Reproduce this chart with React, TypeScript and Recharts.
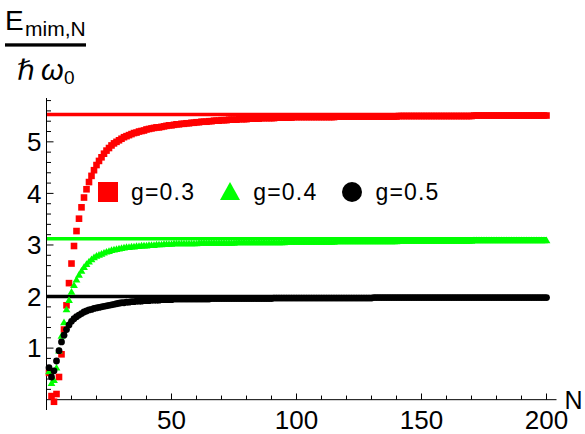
import React from 'react';
import { ScatterChart, Scatter, XAxis, YAxis, ReferenceLine, Legend } from 'recharts';

// E_mim,N / (hbar omega_0) for N = 1..200
const redValues = [
  0.52, 0.07, -0.04, 0.11, 0.44, 0.88, 1.36, 1.83, 2.26, 2.64,
  2.98, 3.27, 3.51, 3.73, 3.92, 4.08, 4.22, 4.34, 4.45, 4.55,
  4.63, 4.7, 4.77, 4.83, 4.88, 4.93, 4.97, 5.0, 5.03, 5.06,
  5.09, 5.11, 5.13, 5.15, 5.17, 5.18, 5.2, 5.21, 5.22, 5.24,
  5.25, 5.26, 5.27, 5.28, 5.28, 5.29, 5.3, 5.31, 5.32, 5.32,
  5.33, 5.34, 5.34, 5.35, 5.35, 5.36, 5.36, 5.37, 5.37, 5.38,
  5.38, 5.39, 5.39, 5.39, 5.4, 5.4, 5.41, 5.41, 5.41, 5.42,
  5.42, 5.42, 5.43, 5.43, 5.43, 5.43, 5.44, 5.44, 5.44, 5.44,
  5.45, 5.45, 5.45, 5.45, 5.45, 5.46, 5.46, 5.46, 5.46, 5.46,
  5.46, 5.47, 5.47, 5.47, 5.47, 5.47, 5.47, 5.47, 5.48, 5.48,
  5.48, 5.48, 5.48, 5.48, 5.48, 5.48, 5.48, 5.48, 5.48, 5.48,
  5.48, 5.48, 5.48, 5.48, 5.48, 5.49, 5.49, 5.49, 5.49, 5.49,
  5.49, 5.49, 5.49, 5.49, 5.49, 5.49, 5.49, 5.49, 5.49, 5.49,
  5.49, 5.49, 5.49, 5.49, 5.49, 5.49, 5.49, 5.49, 5.49, 5.49,
  5.5, 5.5, 5.5, 5.5, 5.5, 5.5, 5.5, 5.5, 5.5, 5.5,
  5.5, 5.5, 5.5, 5.5, 5.5, 5.5, 5.5, 5.5, 5.5, 5.5,
  5.5, 5.5, 5.5, 5.5, 5.5, 5.5, 5.5, 5.5, 5.5, 5.5,
  5.51, 5.51, 5.51, 5.51, 5.51, 5.51, 5.51, 5.51, 5.51, 5.51,
  5.51, 5.51, 5.51, 5.51, 5.51, 5.51, 5.51, 5.51, 5.51, 5.51,
  5.51, 5.51, 5.51, 5.51, 5.51, 5.51, 5.51, 5.51, 5.51, 5.51,
];

const greenValues = [
  0.55, 0.32, 0.38, 0.62, 0.95, 1.24, 1.5, 1.75, 1.93, 2.09,
  2.22, 2.33, 2.42, 2.5, 2.57, 2.63, 2.68, 2.72, 2.76, 2.79,
  2.81, 2.83, 2.85, 2.87, 2.88, 2.9, 2.91, 2.92, 2.93, 2.94,
  2.95, 2.96, 2.96, 2.97, 2.97, 2.98, 2.98, 2.99, 2.99, 2.99,
  3.0, 3.0, 3.0, 3.01, 3.01, 3.01, 3.02, 3.02, 3.02, 3.02,
  3.03, 3.03, 3.03, 3.03, 3.03, 3.03, 3.03, 3.03, 3.03, 3.03,
  3.04, 3.04, 3.04, 3.04, 3.04, 3.04, 3.04, 3.04, 3.04, 3.04,
  3.04, 3.04, 3.04, 3.04, 3.04, 3.05, 3.05, 3.05, 3.05, 3.05,
  3.05, 3.05, 3.05, 3.05, 3.05, 3.05, 3.05, 3.05, 3.05, 3.05,
  3.05, 3.05, 3.05, 3.05, 3.05, 3.06, 3.06, 3.06, 3.06, 3.06,
  3.06, 3.06, 3.06, 3.06, 3.06, 3.06, 3.06, 3.06, 3.06, 3.06,
  3.06, 3.06, 3.06, 3.06, 3.06, 3.07, 3.07, 3.07, 3.07, 3.07,
  3.07, 3.07, 3.07, 3.07, 3.07, 3.07, 3.07, 3.07, 3.07, 3.07,
  3.07, 3.07, 3.07, 3.07, 3.07, 3.07, 3.07, 3.07, 3.07, 3.07,
  3.08, 3.08, 3.08, 3.08, 3.08, 3.08, 3.08, 3.08, 3.08, 3.08,
  3.08, 3.08, 3.08, 3.08, 3.08, 3.08, 3.08, 3.08, 3.08, 3.08,
  3.08, 3.08, 3.08, 3.08, 3.08, 3.08, 3.08, 3.08, 3.08, 3.08,
  3.09, 3.09, 3.09, 3.09, 3.09, 3.09, 3.09, 3.09, 3.09, 3.09,
  3.09, 3.09, 3.09, 3.09, 3.09, 3.09, 3.09, 3.09, 3.09, 3.09,
  3.09, 3.09, 3.09, 3.09, 3.09, 3.09, 3.09, 3.09, 3.09, 3.09,
];

const blackValues = [
  0.62, 0.44, 0.56, 0.75, 0.95, 1.12, 1.25, 1.36, 1.45, 1.52,
  1.57, 1.61, 1.64, 1.67, 1.7, 1.72, 1.74, 1.75, 1.77, 1.78,
  1.79, 1.8, 1.81, 1.82, 1.83, 1.84, 1.85, 1.86, 1.87, 1.88,
  1.88, 1.89, 1.89, 1.9, 1.9, 1.91, 1.91, 1.91, 1.92, 1.92,
  1.92, 1.93, 1.93, 1.93, 1.93, 1.94, 1.94, 1.94, 1.94, 1.94,
  1.95, 1.95, 1.95, 1.95, 1.95, 1.95, 1.95, 1.95, 1.95, 1.95,
  1.95, 1.95, 1.95, 1.95, 1.95, 1.96, 1.96, 1.96, 1.96, 1.96,
  1.96, 1.96, 1.96, 1.96, 1.96, 1.96, 1.96, 1.96, 1.96, 1.96,
  1.96, 1.96, 1.96, 1.96, 1.96, 1.96, 1.96, 1.96, 1.96, 1.96,
  1.97, 1.97, 1.97, 1.97, 1.97, 1.97, 1.97, 1.97, 1.97, 1.97,
  1.97, 1.97, 1.97, 1.97, 1.97, 1.97, 1.97, 1.97, 1.97, 1.97,
  1.97, 1.97, 1.97, 1.97, 1.97, 1.97, 1.97, 1.97, 1.97, 1.97,
  1.97, 1.97, 1.97, 1.97, 1.97, 1.97, 1.97, 1.97, 1.97, 1.97,
  1.98, 1.98, 1.98, 1.98, 1.98, 1.98, 1.98, 1.98, 1.98, 1.98,
  1.98, 1.98, 1.98, 1.98, 1.98, 1.98, 1.98, 1.98, 1.98, 1.98,
  1.98, 1.98, 1.98, 1.98, 1.98, 1.98, 1.98, 1.98, 1.98, 1.98,
  1.98, 1.98, 1.98, 1.98, 1.98, 1.98, 1.98, 1.98, 1.98, 1.98,
  1.98, 1.98, 1.98, 1.98, 1.98, 1.98, 1.98, 1.98, 1.98, 1.98,
  1.98, 1.98, 1.98, 1.98, 1.98, 1.98, 1.98, 1.98, 1.98, 1.98,
  1.98, 1.98, 1.98, 1.98, 1.98, 1.98, 1.98, 1.98, 1.98, 1.98,
];

const nValues = redValues.map((_, i) => i + 1);

// asymptotic values drawn as horizontal lines
const limitValues = [5.53, 3.12, 2.0];
const seriesLabels = ['g=0.3', 'g=0.4', 'g=0.5'];
const seriesColors = ['#ff0000', '#00ff00', '#000000'];

const xMajorTicks = [50, 100, 150, 200];
const xMinorTicks = [10, 20, 30, 40, 60, 70, 80, 90, 110, 120, 130, 140, 160, 170, 180, 190];
const yTicks = [
  0.2, 0.4, 0.6, 0.8, 1, 1.2, 1.4, 1.6, 1.8, 2, 2.2, 2.4, 2.6, 2.8, 3,
  3.2, 3.4, 3.6, 3.8, 4, 4.2, 4.4, 4.6, 4.8, 5, 5.2, 5.4, 5.6, 5.8,
];

const FONT = '"Liberation Sans", Arial, sans-serif';

const toPoints = (vals: number[]) => nValues.map((n, i) => ({ n, e: vals[i] }));

const RedSquare = (p: any) => (
  <rect x={p.cx - 3.3} y={p.cy - 3.3} width={6.6} height={6.6} fill={seriesColors[0]} />
);
const GreenTriangle = (p: any) => (
  <polygon
    points={`${p.cx},${p.cy - 3.8} ${p.cx - 3.9},${p.cy + 2.9} ${p.cx + 3.9},${p.cy + 2.9}`}
    fill={seriesColors[1]}
  />
);
const BlackDot = (p: any) => <circle cx={p.cx} cy={p.cy} r={3.4} fill={seriesColors[2]} />;

function YTick(props: any) {
  const { x, y, payload } = props;
  const v = payload.value;
  const major = Math.abs(v - Math.round(v)) < 1e-6;
  return (
    <g>
      <line x1={x} x2={x + (major ? 7 : 4.5)} y1={y} y2={y} stroke="#000" strokeWidth={1} />
      {major && (
        <text x={x - 5} y={y} dy="0.36em" textAnchor="end" fontSize={26} fill="#000">
          {v}
        </text>
      )}
    </g>
  );
}

const legendIcons = [
  <rect key="s" x={0} y={0} width={20} height={20} fill={seriesColors[0]} />,
  <polygon key="t" points="10,0 0,18 20,18" fill={seriesColors[1]} />,
  <circle key="c" cx={10} cy={10} r={10} fill={seriesColors[2]} />,
];

function LegendRow() {
  return (
    <div style={{ display: 'flex', alignItems: 'center', fontFamily: FONT, fontSize: 23, color: '#000' }}>
      {seriesLabels.map((label, i) => (
        <div key={label} style={{ display: 'flex', alignItems: 'center', marginRight: 25 }}>
          <svg width={20} height={20} style={{ display: 'block' }}>
            {legendIcons[i]}
          </svg>
          <span style={{ marginLeft: 13, letterSpacing: 1.2, lineHeight: '20px' }}>{label}</span>
        </div>
      ))}
    </div>
  );
}

export default function App() {
  const series = [redValues, greenValues, blackValues].map(toPoints);
  const shapes = [RedSquare, GreenTriangle, BlackDot];

  return (
    <div style={{ position: 'absolute', left: 0, top: 0, width: 585, height: 434, background: '#fff', fontFamily: FONT }}>
      <svg width={100} height={95} style={{ position: 'absolute', left: 0, top: 0 }}>
        <text x={5} y={30} fontSize={28} fill="#000" fontFamily={FONT}>
          E
        </text>
        <text x={25} y={35.5} fontSize={21} fill="#000" fontFamily={FONT}>
          mim,N
        </text>
        <rect x={5} y={43.3} width={81} height={3.3} fill="#000" />
        <text x={17} y={80} fontSize={28} fontStyle="italic" fill="#000" fontFamily='"DejaVu Sans", sans-serif'>
          ℏ
        </text>
        <text x={41} y={80} fontSize={29} fontStyle="italic" fill="#000" fontFamily={FONT}>
          ω
        </text>
        <text x={64} y={83.5} fontSize={19} fill="#000" fontFamily={FONT}>
          0
        </text>
      </svg>

      <ScatterChart width={585} height={434} margin={{ top: 98, right: 28.5, bottom: 0, left: 0 }}>
        <XAxis
          type="number"
          dataKey="n"
          domain={[0, 204]}
          ticks={xMajorTicks}
          axisLine={false}
          tickLine={false}
          tickSize={0}
          tickMargin={1}
          height={24}
          tick={{ fontSize: 26, fill: '#000' }}
        />
        <YAxis
          type="number"
          dataKey="e"
          domain={[-0.2, 5.85]}
          ticks={yTicks}
          width={46.5}
          axisLine={{ stroke: '#000', strokeWidth: 1 }}
          tickLine={false}
          tickSize={0}
          tickMargin={0}
          tick={<YTick />}
          interval={0}
        />
        <ReferenceLine
          y={0}
          stroke="#000"
          strokeWidth={1}
          label={{ value: 'N', position: 'right', offset: 8, fontSize: 25, fill: '#000' }}
        />
        {xMajorTicks.map((t) => (
          <ReferenceLine key={'M' + t} segment={[{ x: t, y: 0 }, { x: t, y: 0.12 }]} stroke="#000" strokeWidth={1} />
        ))}
        {xMinorTicks.map((t) => (
          <ReferenceLine key={'m' + t} segment={[{ x: t, y: 0 }, { x: t, y: 0.08 }]} stroke="#000" strokeWidth={1} />
        ))}
        {limitValues.map((v, i) => (
          <ReferenceLine
            key={'lim' + i}
            segment={[{ x: 0, y: v }, { x: nValues[nValues.length - 1], y: v }]}
            stroke={seriesColors[i]}
            strokeWidth={3.6}
          />
        ))}
        {series.map((data, i) => (
          <Scatter
            key={seriesLabels[i]}
            name={seriesLabels[i]}
            data={data}
            shape={shapes[i]}
            isAnimationActive={false}
          />
        ))}
        <Legend
          layout="horizontal"
          verticalAlign="middle"
          align="center"
          content={() => <LegendRow />}
          wrapperStyle={{ left: 98, top: 182, width: 'auto', height: 'auto' }}
        />
      </ScatterChart>
    </div>
  );
}
